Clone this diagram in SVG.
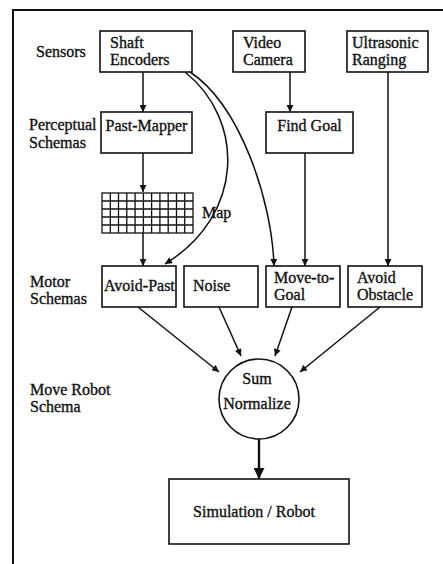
<svg xmlns="http://www.w3.org/2000/svg" width="443" height="564" viewBox="0 0 443 564">
<style>
  text { font-family: "Liberation Serif", "Times New Roman", "DejaVu Serif", serif; font-size: 16px; font-weight: normal; fill: #111; stroke: #111; stroke-width: 0.35; }
  .box { fill: #fff; stroke: #111; stroke-width: 1.6; }
  .c { fill: none; stroke: #111; stroke-width: 1.5; }
  .thick { fill: none; stroke: #111; stroke-width: 2.4; }
  .grid { fill: none; stroke: #111; stroke-width: 1.3; }
  .frame { fill: none; stroke: #111; stroke-width: 2; }
</style>
<defs>
  <marker id="ah" viewBox="0 0 10 10" refX="10" refY="5" markerUnits="userSpaceOnUse" markerWidth="9" markerHeight="7" orient="auto">
    <path d="M0,0 L10,5 L0,10 z" fill="#111"/>
  </marker>
  <marker id="ahBig" viewBox="0 0 10 10" refX="10" refY="5" markerUnits="userSpaceOnUse" markerWidth="20" markerHeight="11" orient="auto">
    <path d="M0,0 L10,5 L0,10 z" fill="#111"/>
  </marker>
</defs>
<rect width="443" height="564" fill="#fff"/>
<path class="frame" d="M13,564 L13,10 L443,10"/>

<g id="labels">
  <text x="36" y="57">Sensors</text>
  <text x="29" y="130">Perceptual</text>
  <text x="29" y="148">Schemas</text>
  <text x="30" y="287">Motor</text>
  <text x="30" y="304">Schemas</text>
  <text x="30" y="395">Move Robot</text>
  <text x="30" y="412">Schema</text>
</g>

<g id="connectors">
  <line class="c" x1="143" y1="72" x2="143" y2="112" marker-end="url(#ah)"/>
  <line class="c" x1="290" y1="72" x2="290" y2="112" marker-end="url(#ah)"/>
  <line class="c" x1="143" y1="153" x2="143" y2="192" marker-end="url(#ah)"/>
  <line class="c" x1="143" y1="233" x2="143" y2="266" marker-end="url(#ah)"/>
  <line class="c" x1="305" y1="153" x2="305" y2="266" marker-end="url(#ah)"/>
  <line class="c" x1="388" y1="72" x2="388" y2="266" marker-end="url(#ah)"/>
  <path class="c" d="M185,72 C245,120 245,215 165,264" marker-end="url(#ah)"/>
  <path class="c" d="M190,72 C240,105 272,200 274,266" marker-end="url(#ah)"/>
  <line class="c" x1="138" y1="307" x2="219" y2="372" marker-end="url(#ah)"/>
  <line class="c" x1="219" y1="307" x2="241" y2="356" marker-end="url(#ah)"/>
  <line class="c" x1="292" y1="307" x2="275" y2="356" marker-end="url(#ah)"/>
  <line class="c" x1="380" y1="307" x2="300" y2="372" marker-end="url(#ah)"/>
  <line class="thick" x1="259" y1="439" x2="259" y2="479" marker-end="url(#ahBig)"/>
</g>

<g id="shaft-encoders">
  <rect class="box" x="100" y="31" width="92" height="41"/>
  <text x="110" y="48">Shaft</text>
  <text x="110" y="65">Encoders</text>
</g>
<g id="video-camera">
  <rect class="box" x="233" y="31" width="72" height="41"/>
  <text x="243" y="48">Video</text>
  <text x="243" y="65">Camera</text>
</g>
<g id="ultrasonic-ranging">
  <rect class="box" x="347" y="31" width="81" height="41"/>
  <text x="352" y="48">Ultrasonic</text>
  <text x="352" y="65">Ranging</text>
</g>
<g id="past-mapper">
  <rect class="box" x="101" y="112" width="91" height="41"/>
  <text x="146.5" y="131" text-anchor="middle">Past-Mapper</text>
</g>
<g id="find-goal">
  <rect class="box" x="266" y="112" width="87" height="41"/>
  <text x="309.5" y="131" text-anchor="middle">Find Goal</text>
</g>
<g id="map">
  <rect class="grid" x="102" y="193" width="91" height="40"/>
  <path class="grid" d="M110.3,193V233M118.5,193V233M126.8,193V233M135.1,193V233M143.4,193V233M151.6,193V233M159.9,193V233M168.2,193V233M176.5,193V233M184.7,193V233M102,201H193M102,209H193M102,217H193M102,225H193"/>
  <text x="202" y="218">Map</text>
</g>
<g id="avoid-past">
  <rect class="box" x="102" y="266" width="74" height="41"/>
  <text x="104" y="291">Avoid-Past</text>
</g>
<g id="noise">
  <rect class="box" x="184" y="266" width="74" height="41"/>
  <text x="193" y="291">Noise</text>
</g>
<g id="move-to-goal">
  <rect class="box" x="266" y="266" width="74" height="41"/>
  <text x="274" y="283">Move-to-</text>
  <text x="274" y="300">Goal</text>
</g>
<g id="avoid-obstacle">
  <rect class="box" x="348" y="266" width="74" height="41"/>
  <text x="357" y="283">Avoid</text>
  <text x="357" y="300">Obstacle</text>
</g>
<g id="sum-normalize">
  <circle class="box" cx="259" cy="399" r="40"/>
  <text x="257" y="384" text-anchor="middle">Sum</text>
  <text x="257" y="409" text-anchor="middle">Normalize</text>
</g>
<g id="simulation-robot">
  <rect class="box" x="169" y="479" width="180" height="65"/>
  <text x="254" y="517" text-anchor="middle">Simulation / Robot</text>
</g>
</svg>
